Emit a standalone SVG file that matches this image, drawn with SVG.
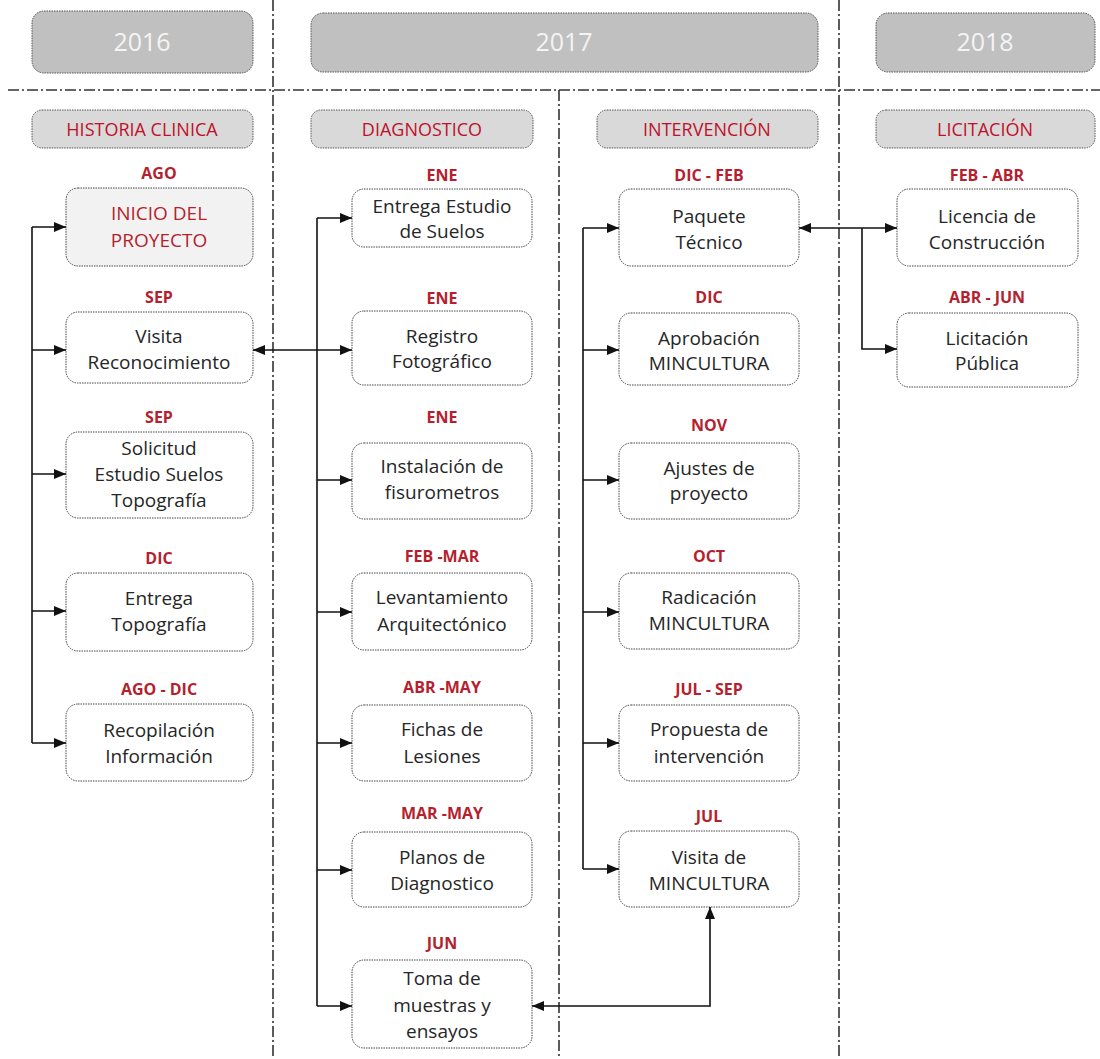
<svg xmlns="http://www.w3.org/2000/svg" width="1100" height="1059" viewBox="0 0 1100 1059">
<defs>
<marker id="arr" viewBox="0 0 12 10" refX="12" refY="5" markerWidth="12" markerHeight="10" markerUnits="userSpaceOnUse" orient="auto-start-reverse">
<path d="M0,0 L12,5 L0,10 z" fill="#111"/>
</marker>
<style>
.year rect{fill:#c0c0c0;stroke:#555;stroke-width:1;stroke-dasharray:1.5 1}
.year text{font-family:"Open Sans","Liberation Sans",sans-serif;font-size:25px;fill:#f4f4f4;text-anchor:middle}
.sec rect{fill:#d9d9d9;stroke:#555;stroke-width:1;stroke-dasharray:1.5 1}
.sec text{font-family:"Open Sans","Liberation Sans",sans-serif;font-size:18px;fill:#c0102a;text-anchor:middle}
.node rect{fill:#fff;stroke:#444;stroke-width:1;stroke-dasharray:1.5 1}
.node text{font-family:"Open Sans","Liberation Sans",sans-serif;font-size:19px;fill:#262626;text-anchor:middle}
.node text.lbl{font-size:16px;font-weight:bold;fill:#b51f2e}
#n_inicio rect{fill:#f2f2f2}
#n_inicio text.red{fill:#b51f2e}
.div{stroke:#333;stroke-width:1.6;stroke-dasharray:11 3 2 3;fill:none}
.conn path{stroke:#111;stroke-width:1.6;fill:none}
</style>
</defs>
<rect width="1100" height="1059" fill="#fff"/>

<g id="dividers">
<path class="div" d="M8,90 H1100"/>
<path class="div" d="M273,0 V1059"/>
<path class="div" d="M839,0 V1059"/>
<path class="div" d="M559,90 V1059"/>
</g>

<g id="y2016" class="year"><rect x="32" y="11" width="221" height="62" rx="12"/><text x="142" y="51">2016</text></g>
<g id="y2017" class="year"><rect x="311" y="13" width="507" height="59" rx="12"/><text x="564" y="51">2017</text></g>
<g id="y2018" class="year"><rect x="876" y="13" width="219" height="59" rx="12"/><text x="985" y="51">2018</text></g>

<g id="s_hist" class="sec"><rect x="32" y="110" width="221" height="38" rx="10"/><text x="142" y="136">HISTORIA CLINICA</text></g>
<g id="s_diag" class="sec"><rect x="311" y="110" width="222" height="38" rx="10"/><text x="422" y="136">DIAGNOSTICO</text></g>
<g id="s_int" class="sec"><rect x="597" y="110" width="221" height="38" rx="10"/><text x="707" y="136">INTERVENCIÓN</text></g>
<g id="s_lic" class="sec"><rect x="876" y="110" width="219" height="38" rx="10"/><text x="985" y="136">LICITACIÓN</text></g>

<!-- Column 1 -->
<g id="n_inicio" class="node"><text class="lbl" x="159" y="179">AGO</text><rect x="66" y="188" width="187" height="78" rx="12"/><text class="red" x="159" y="220">INICIO DEL</text><text class="red" x="159" y="247">PROYECTO</text></g>
<g id="n_visita" class="node"><text class="lbl" x="159" y="303">SEP</text><rect x="66" y="312" width="187" height="71" rx="12"/><text x="159" y="343">Visita</text><text x="159" y="369">Reconocimiento</text></g>
<g id="n_solicitud" class="node"><text class="lbl" x="159" y="423">SEP</text><rect x="66" y="432" width="187" height="86" rx="12"/><text x="159" y="455">Solicitud</text><text x="159" y="481">Estudio Suelos</text><text x="159" y="507">Topografía</text></g>
<g id="n_entrega_topo" class="node"><text class="lbl" x="159" y="564">DIC</text><rect x="66" y="573" width="187" height="78" rx="12"/><text x="159" y="605">Entrega</text><text x="159" y="631">Topografía</text></g>
<g id="n_recop" class="node"><text class="lbl" x="159" y="695">AGO - DIC</text><rect x="66" y="704" width="187" height="77" rx="12"/><text x="159" y="737">Recopilación</text><text x="159" y="763">Información</text></g>

<!-- Column 2 -->
<g id="n_entrega_suelos" class="node"><text class="lbl" x="442" y="181">ENE</text><rect x="352" y="189" width="180" height="58" rx="12"/><text x="442" y="213">Entrega Estudio</text><text x="442" y="238">de Suelos</text></g>
<g id="n_registro" class="node"><text class="lbl" x="442" y="304">ENE</text><rect x="352" y="311" width="180" height="74" rx="12"/><text x="442" y="343">Registro</text><text x="442" y="368">Fotográfico</text></g>
<g id="n_instal" class="node"><text class="lbl" x="442" y="423">ENE</text><rect x="352" y="443" width="180" height="76" rx="12"/><text x="442" y="473">Instalación de</text><text x="442" y="499">fisurometros</text></g>
<g id="n_levant" class="node"><text class="lbl" x="442" y="562">FEB -MAR</text><rect x="352" y="573" width="180" height="77" rx="12"/><text x="442" y="604">Levantamiento</text><text x="442" y="631">Arquitectónico</text></g>
<g id="n_fichas" class="node"><text class="lbl" x="442" y="693">ABR -MAY</text><rect x="352" y="705" width="180" height="76" rx="12"/><text x="442" y="736">Fichas de</text><text x="442" y="763">Lesiones</text></g>
<g id="n_planos" class="node"><text class="lbl" x="442" y="819">MAR -MAY</text><rect x="352" y="832" width="180" height="75" rx="12"/><text x="442" y="864">Planos de</text><text x="442" y="890">Diagnostico</text></g>
<g id="n_toma" class="node"><text class="lbl" x="442" y="949">JUN</text><rect x="352" y="960" width="180" height="88" rx="12"/><text x="442" y="985">Toma de</text><text x="442" y="1012">muestras y</text><text x="442" y="1038">ensayos</text></g>

<!-- Column 3 -->
<g id="n_paquete" class="node"><text class="lbl" x="709" y="181">DIC - FEB</text><rect x="619" y="189" width="180" height="77" rx="12"/><text x="709" y="223">Paquete</text><text x="709" y="249">Técnico</text></g>
<g id="n_aprob" class="node"><text class="lbl" x="709" y="303">DIC</text><rect x="619" y="313" width="180" height="72" rx="12"/><text x="709" y="345">Aprobación</text><text x="709" y="370">MINCULTURA</text></g>
<g id="n_ajustes" class="node"><text class="lbl" x="709" y="431">NOV</text><rect x="619" y="443" width="180" height="76" rx="12"/><text x="709" y="475">Ajustes de</text><text x="709" y="500">proyecto</text></g>
<g id="n_radic" class="node"><text class="lbl" x="709" y="562">OCT</text><rect x="619" y="573" width="180" height="76" rx="12"/><text x="709" y="604">Radicación</text><text x="709" y="630">MINCULTURA</text></g>
<g id="n_propuesta" class="node"><text class="lbl" x="709" y="695">JUL - SEP</text><rect x="619" y="705" width="180" height="76" rx="12"/><text x="709" y="736">Propuesta de</text><text x="709" y="763">intervención</text></g>
<g id="n_visita_min" class="node"><text class="lbl" x="709" y="822">JUL</text><rect x="619" y="831" width="180" height="76" rx="12"/><text x="709" y="864">Visita de</text><text x="709" y="890">MINCULTURA</text></g>

<!-- Column 4 -->
<g id="n_licencia" class="node"><text class="lbl" x="987" y="181">FEB - ABR</text><rect x="897" y="189" width="181" height="77" rx="12"/><text x="987" y="223">Licencia de</text><text x="987" y="249">Construcción</text></g>
<g id="n_licitacion" class="node"><text class="lbl" x="987" y="303">ABR - JUN</text><rect x="897" y="313" width="181" height="74" rx="12"/><text x="987" y="345">Licitación</text><text x="987" y="370">Pública</text></g>

<g id="connectors" class="conn">
<path d="M32,227 V743"/>
<path d="M32,227 H66" marker-end="url(#arr)"/>
<path d="M32,350 H66" marker-end="url(#arr)"/>
<path d="M32,474 H66" marker-end="url(#arr)"/>
<path d="M32,611 H66" marker-end="url(#arr)"/>
<path d="M32,743 H66" marker-end="url(#arr)"/>

<path d="M317,218 V1006"/>
<path d="M317,218 H352" marker-end="url(#arr)"/>
<path d="M317,480 H352" marker-end="url(#arr)"/>
<path d="M317,612 H352" marker-end="url(#arr)"/>
<path d="M317,743 H352" marker-end="url(#arr)"/>
<path d="M317,870 H352" marker-end="url(#arr)"/>
<path d="M317,1006 H352" marker-end="url(#arr)"/>
<path d="M253,350 H352" marker-start="url(#arr)" marker-end="url(#arr)"/>

<path d="M583,228 V869"/>
<path d="M583,228 H619" marker-end="url(#arr)"/>
<path d="M583,350 H619" marker-end="url(#arr)"/>
<path d="M583,480 H619" marker-end="url(#arr)"/>
<path d="M583,612 H619" marker-end="url(#arr)"/>
<path d="M583,743 H619" marker-end="url(#arr)"/>
<path d="M583,869 H619" marker-end="url(#arr)"/>
<path d="M532,1006 H710 V907" marker-start="url(#arr)" marker-end="url(#arr)"/>

<path d="M799,228 H897" marker-start="url(#arr)" marker-end="url(#arr)"/>
<path d="M862,228 V349 H897" marker-end="url(#arr)"/>
</g>
</svg>
